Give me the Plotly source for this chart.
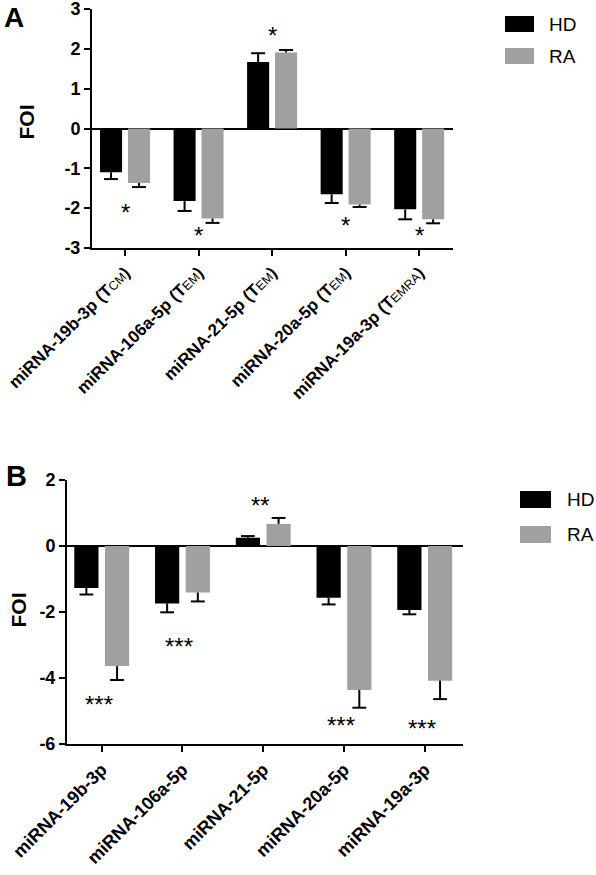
import plotly.graph_objects as go

# ---------------- data ----------------
mirnas = ["miRNA-19b-3p", "miRNA-106a-5p", "miRNA-21-5p", "miRNA-20a-5p", "miRNA-19a-3p"]
subsets_a = ["CM", "EM", "EM", "EM", "EMRA"]

hd_a = [-1.10, -1.82, 1.67, -1.65, -2.03]
hd_a_err = [0.17, 0.25, 0.22, 0.22, 0.25]
ra_a = [-1.37, -2.26, 1.91, -1.91, -2.28]
ra_a_err = [0.10, 0.11, 0.06, 0.06, 0.10]
stars_a = ["*", "*", "*", "*", "*"]
stars_a_y = [-1.98, -2.55, 2.45, -2.32, -2.55]

hd_b = [-1.27, -1.74, 0.25, -1.57, -1.94]
hd_b_err = [0.20, 0.27, 0.05, 0.20, 0.13]
ra_b = [-3.64, -1.41, 0.67, -4.36, -4.08]
ra_b_err = [0.42, 0.27, 0.18, 0.54, 0.56]
stars_b = ["***", "***", "**", "***", "***"]
stars_b_y = [-4.64, -2.90, 1.39, -5.29, -5.37]

yticks_a = [-3, -2, -1, 0, 1, 2, 3]
yticks_b = [-6, -4, -2, 0, 2]
series_names = ["HD", "RA"]

# ---------------- style ----------------
W, H = 596, 875
FONT = "Liberation Sans, Arial, Helvetica, sans-serif"
HD_COLOR = "#000000"
RA_COLOR = "#a0a0a0"
OFFSET = 0.19
BAR_W = 0.30
CAP = 0.095


def px(x):
    return x / W


def py(y):
    return 1 - y / H


idx = list(range(len(mirnas)))
labels_a = [f"{m} (T<span style='font-size:12.5px;font-weight:normal'>{s}</span>)"
            for m, s in zip(mirnas, subsets_a)]
labels_b = list(mirnas)


def err_lines(vals, errs, off, cap):
    xs, ys = [], []
    for i, (v, e) in enumerate(zip(vals, errs)):
        x0 = i + off
        end = v + e if v >= 0 else v - e
        xs += [x0, x0, None, x0 - cap, x0 + cap, None]
        ys += [v, end, None, end, end, None]
    return xs, ys


fig = go.Figure()

panels = [
    ("x", "y", hd_a, hd_a_err, ra_a, ra_a_err, CAP),
    ("x2", "y2", hd_b, hd_b_err, ra_b, ra_b_err, CAP * 0.9),
]
for xa, ya, hd, hde, ra, rae, cap in panels:
    for name, vals, errs, off, col in [(series_names[0], hd, hde, -OFFSET, HD_COLOR),
                                       (series_names[1], ra, rae, OFFSET, RA_COLOR)]:
        fig.add_trace(go.Bar(x=[i + off for i in idx], y=vals, width=BAR_W,
                             marker=dict(color=col, line=dict(width=0)),
                             name=name, showlegend=False, xaxis=xa, yaxis=ya))
    for vals, errs, off in [(hd, hde, -OFFSET), (ra, rae, OFFSET)]:
        ex, ey = err_lines(vals, errs, off, cap)
        fig.add_trace(go.Scatter(x=ex, y=ey, mode="lines",
                                 line=dict(color="black", width=2),
                                 showlegend=False, hoverinfo="skip",
                                 xaxis=xa, yaxis=ya))

axis_common = dict(showline=True, linecolor="black", linewidth=2,
                   ticks="outside", ticklen=6, tickwidth=2, tickcolor="black",
                   showgrid=False, fixedrange=True, automargin=False,
                   ticklabeloverflow="allow")
tickfont = dict(family=FONT, size=18, color="black", weight="bold")
tickfont_xa = dict(family=FONT, size=17, color="black", weight="bold")

layout = dict(
    template="none",
    width=W, height=H, autosize=False,
    margin=dict(l=0, r=0, t=0, b=0, pad=0, autoexpand=False),
    paper_bgcolor="white", plot_bgcolor="white",
    barmode="overlay",
    showlegend=False,
    xaxis=dict(axis_common, domain=[px(92), px(453)], range=[-0.449, 4.46],
               tickmode="array", tickvals=idx, ticktext=labels_a, tickangle=-45,
               tickfont=tickfont_xa, zeroline=False, anchor="y"),
    yaxis=dict(axis_common, domain=[py(248), py(9)], range=[-3, 3],
               tickmode="array", tickvals=yticks_a,
               ticktext=[str(t) for t in yticks_a], tickfont=tickfont,
               zeroline=True, zerolinecolor="black", zerolinewidth=2, anchor="x"),
    xaxis2=dict(axis_common, domain=[px(67), px(463)], range=[-0.43, 4.474],
                tickmode="array", tickvals=idx, ticktext=labels_b, tickangle=-45,
                tickfont=tickfont, zeroline=False, anchor="y2"),
    yaxis2=dict(axis_common, domain=[py(744), py(480)], range=[-6, 2],
                tickmode="array", tickvals=yticks_b,
                ticktext=[str(t) for t in yticks_b], tickfont=tickfont,
                zeroline=True, zerolinecolor="black", zerolinewidth=2, anchor="x2"),
)
fig.update_layout(layout)

annotations = []
# significance stars
for i, (t, y) in enumerate(zip(stars_a, stars_a_y)):
    annotations.append(dict(x=i, y=y, xref="x", yref="y", text=t, showarrow=False,
                            xanchor="center", yanchor="middle",
                            yshift=-5, font=dict(family=FONT, size=24, color="black")))
for i, (t, y) in enumerate(zip(stars_b, stars_b_y)):
    annotations.append(dict(x=i, y=y, xref="x2", yref="y2", text=t, showarrow=False,
                            xanchor="center", yanchor="middle",
                            xshift=-3, yshift=-5, font=dict(family=FONT, size=24, color="black")))

# panel letters and axis titles
centered = dict(xref="paper", yref="paper", showarrow=False,
                xanchor="center", yanchor="middle")
annotations += [
    dict(centered, x=px(14), y=py(17), text="A",
         font=dict(family=FONT, size=28, color="black", weight="bold")),
    dict(centered, x=px(16), y=py(476), text="B",
         font=dict(family=FONT, size=29, color="black", weight="bold")),
    dict(centered, x=px(25.5), y=py(122), text="FOI", textangle=-90,
         font=dict(family=FONT, size=21, color="black", weight="bold")),
    dict(centered, x=px(17.5), y=py(610), text="FOI", textangle=-90,
         font=dict(family=FONT, size=21, color="black", weight="bold")),
]

# custom legends
shapes = []
legends = [
    (505, 534, [(16, 32), (48, 64)], 547),
    (520, 551, [(491, 508), (526, 543)], 565),
]
for x0, x1, rows, tx in legends:
    for (y0, y1), name, col in zip(rows, series_names, [HD_COLOR, RA_COLOR]):
        shapes.append(dict(type="rect", xref="paper", yref="paper",
                           x0=px(x0), x1=px(x1), y0=py(y1), y1=py(y0),
                           fillcolor=col, line=dict(width=0)))
        annotations.append(dict(x=px(tx), y=py((y0 + y1) / 2), xref="paper", yref="paper",
                                text=name, showarrow=False, xanchor="left", yanchor="middle",
                                font=dict(family=FONT, size=19, color="black")))

fig.update_layout(annotations=annotations, shapes=shapes)

fig.write_html("out.html", config=dict(displayModeBar=False),
               post_script="document.body.style.margin='0';document.body.style.overflow='hidden';")
